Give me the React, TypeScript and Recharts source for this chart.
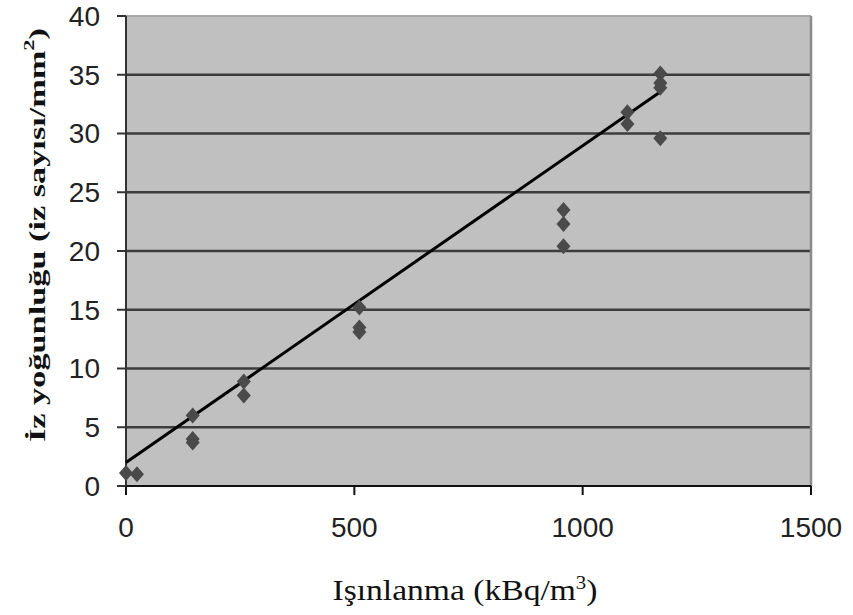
import React from 'react';
import { ScatterChart, Scatter, XAxis, YAxis, CartesianGrid, ReferenceLine } from 'recharts';

// measured track densities (x: kBq/m3, y: tracks/mm2)
const exposure = [0, 24, 146, 146, 146, 258, 258, 511, 511, 511, 958, 958, 958, 1098, 1098, 1170, 1170, 1170, 1170];
const density = [1.1, 1.0, 6.0, 4.0, 3.7, 8.9, 7.7, 15.2, 13.5, 13.1, 23.5, 22.3, 20.4, 31.8, 30.8, 35.1, 34.3, 33.9, 29.6];

// linear trend line end points
const trendX = [0, 1172];
const trendY = [2.0, 33.6];

const xTicks = [0, 500, 1000, 1500];
const yTicks = [0, 5, 10, 15, 20, 25, 30, 35, 40];
const gridValues = [5, 10, 15, 20, 25, 30, 35];

const points = exposure.map((x, i) => ({ x, y: density[i] }));
const trend = trendX.map((x, i) => ({ x, y: trendY[i] }));

const Diamond = (props: any) => {
  const { cx, cy } = props;
  if (cx == null || cy == null) return <g />;
  return (
    <polygon
      points={`${cx},${cy - 8} ${cx + 7},${cy} ${cx},${cy + 8} ${cx - 7},${cy}`}
      fill="#4a4a4a"
    />
  );
};

const NoDot = () => <g />;

const YTitle = () => (
  <text
    x={37}
    y={235}
    transform="rotate(-90 37 235)"
    textAnchor="middle"
    dominantBaseline="central"
    fontFamily="'Liberation Serif', serif"
    fontWeight="bold"
    fontSize={23}
    fill="#111"
    textLength={414}
    lengthAdjust="spacingAndGlyphs"
  >
    İz yoğunluğu  (iz sayısı/mm<tspan dy={-8} fontSize={15}>2</tspan><tspan dy={8}>)</tspan>
  </text>
);

const XTitle = () => (
  <text
    x={465}
    y={600}
    textAnchor="middle"
    fontFamily="'Liberation Serif', serif"
    fontSize={29}
    fill="#111"
    textLength={265}
    lengthAdjust="spacingAndGlyphs"
  >
    Işınlanma (kBq/m<tspan dy={-11} fontSize={18}>3</tspan><tspan dy={11}>)</tspan>
  </text>
);

const tickStyle = { fontFamily: "'Liberation Sans', Arial, sans-serif", fontSize: 28, fill: '#222' };

export default function App() {
  return (
    <div style={{ position: 'absolute', left: 0, top: 0, background: '#fff' }}>
      <ScatterChart width={853} height={615} margin={{ top: 16, right: 42, bottom: 89, left: 0 }}>
        <CartesianGrid
          horizontal
          vertical={false}
          horizontalValues={gridValues}
          stroke="#3c3c3c"
          strokeWidth={2.5}
          fill="#c0c0c0"
          fillOpacity={1}
        />
        <ReferenceLine y={40} stroke="#a8a8a8" strokeWidth={2} />
        <ReferenceLine x={1500} stroke="#8a8a8a" strokeWidth={2.5} />
        <XAxis
          type="number"
          dataKey="x"
          domain={[0, 1500]}
          ticks={xTicks}
          interval={0}
          height={40}
          stroke="#111"
          strokeWidth={2}
          tickSize={9}
          tickMargin={22}
          tick={tickStyle}
          label={<XTitle />}
        />
        <YAxis
          type="number"
          dataKey="y"
          domain={[0, 40]}
          ticks={yTicks}
          interval={0}
          width={126}
          stroke="#333"
          strokeWidth={2}
          tickSize={9}
          tickMargin={17}
          tick={tickStyle}
          label={<YTitle />}
        />
        <Scatter
          data={trend}
          line={{ stroke: '#000', strokeWidth: 3 }}
          lineType="joint"
          shape={<NoDot />}
          isAnimationActive={false}
        />
        <Scatter data={points} shape={<Diamond />} isAnimationActive={false} />
      </ScatterChart>
    </div>
  );
}
